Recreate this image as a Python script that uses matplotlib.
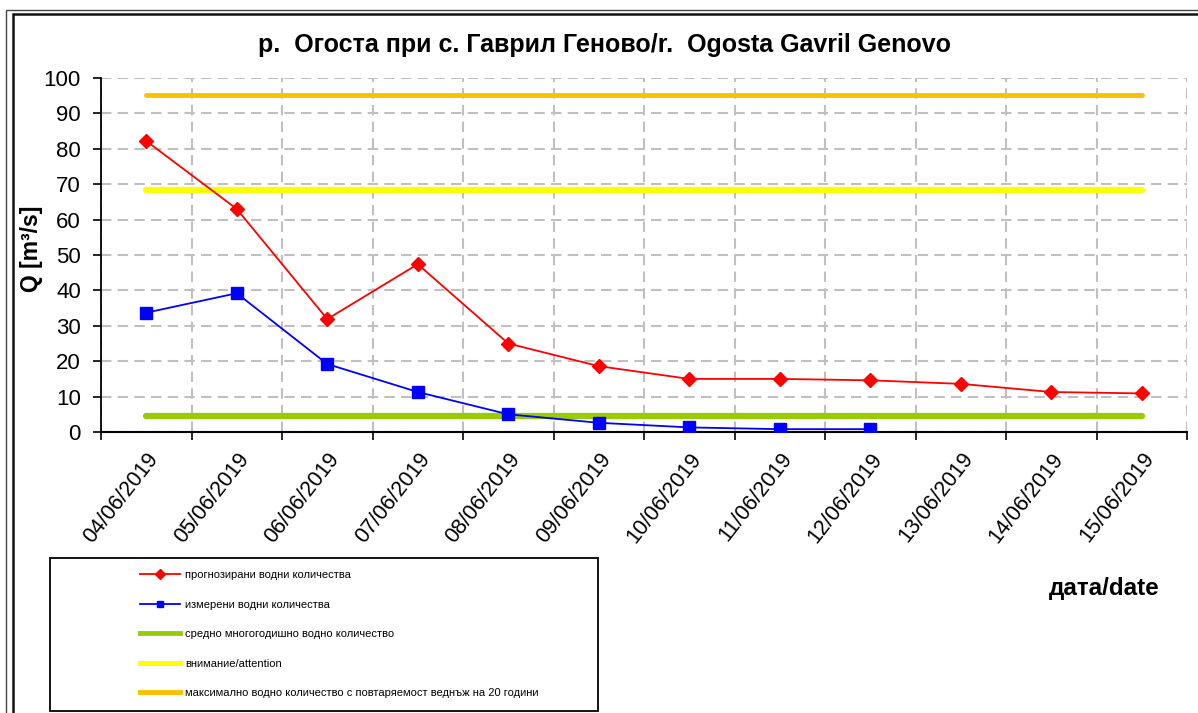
import matplotlib
matplotlib.use("Agg")
import matplotlib.pyplot as plt
from matplotlib.patches import Rectangle
from matplotlib.lines import Line2D

plt.rcParams['font.family'] = ['Liberation Sans', 'DejaVu Sans']

dates = ["04/06/2019", "05/06/2019", "06/06/2019", "07/06/2019", "08/06/2019",
         "09/06/2019", "10/06/2019", "11/06/2019", "12/06/2019", "13/06/2019",
         "14/06/2019", "15/06/2019"]
forecast = [82.2, 63.0, 31.9, 47.4, 25.0, 18.6, 15.0, 15.0, 14.6, 13.6, 11.3, 10.9]
measured = [33.7, 39.2, 19.2, 11.3, 5.0, 2.6, 1.3, 0.8, 0.8]
mean_q = 4.6
attention_q = 68.3
max20_q = 95.2

labels = ["прогнозирани водни количества",
          "измерени водни количества",
          "средно многогодишно водно количество",
          "внимание/attention",
          "максимално водно количество с повтаряемост веднъж на 20 години"]

W, H = 1198, 713
fig = plt.figure(figsize=(W / 100, H / 100), dpi=100)
fig.patch.set_facecolor("white")

def fx(px):
    return px / W

def fy(py):
    return 1 - py / H

AX_L, AX_R, AX_T, AX_B = 101, 1187, 78, 432
ax = fig.add_axes([fx(AX_L), fy(AX_B), fx(AX_R) - fx(AX_L), fy(AX_T) - fy(AX_B)])

x = list(range(len(dates)))
xm = list(range(len(measured)))

h_mean, = ax.plot([x[0], x[-1]], [mean_q, mean_q], color="#99cc00", lw=4.5,
                  solid_capstyle="round", zorder=3)
h_att, = ax.plot([x[0], x[-1]], [attention_q, attention_q], color="#ffff00", lw=4.5,
                 solid_capstyle="round", zorder=3)
h_max, = ax.plot([x[0], x[-1]], [max20_q, max20_q], color="#ffc000", lw=3.5,
                 solid_capstyle="round", zorder=3)
h_fc, = ax.plot(x, forecast, color="#ff0000", lw=1.3, marker="D", ms=7,
                markerfacecolor="#ff0000", markeredgecolor="#ff0000", zorder=4)
h_ms, = ax.plot(xm, measured, color="#0000ff", lw=1.3, marker="s", ms=9,
                markerfacecolor="#0000ff", markeredgecolor="#0000ff", zorder=5)

ax.set_xlim(-0.5, len(dates) - 0.5)
ax.set_ylim(0, 100)
ax.set_yticks(range(0, 101, 10))
ax.tick_params(axis="y", labelsize=16, length=6, width=1.2, direction="out", pad=8.5)

ax.set_xticks(x)
ax.set_xticklabels(dates, rotation=52, ha="right", va="top",
                   rotation_mode="anchor", fontsize=15.5)
ax.tick_params(axis="x", which="major", length=0, pad=12)
ax.set_xticks([i - 0.5 for i in range(len(dates) + 1)], minor=True)
ax.tick_params(axis="x", which="minor", length=6, width=1.2, direction="out")

ax.grid(True, axis="y", which="major", color="#c0c0c0", lw=1.5, ls=(0, (5, 3)))
ax.grid(True, axis="x", which="minor", color="#c0c0c0", lw=1.5, ls=(0, (5, 3)))
ax.set_axisbelow(True)

for s in ["top", "right"]:
    ax.spines[s].set_visible(False)
ax.spines["left"].set_linewidth(1.3)
ax.spines["bottom"].set_linewidth(1.5)

ax.set_ylabel("Q [m³/s]", fontsize=16.5, fontweight="bold")
ax.yaxis.set_label_coords((43 - AX_L) / (AX_R - AX_L), (AX_B - 249) / (AX_B - AX_T))

fig.text(fx(605), fy(45), "р.  Огоста при с. Гаврил Геново/r.  Ogosta Gavril Genovo",
         ha="center", va="center", fontsize=18, fontweight="bold")

fig.text(fx(1104), fy(589), "дата/date", ha="center", va="center",
         fontsize=17.5, fontweight="bold")

# outer double border
fig.patches.append(Rectangle((fx(6), fy(740)), fx(1300), fy(10) - fy(740),
                             transform=fig.transFigure, fill=False, ec="#444444", lw=1.0))
fig.patches.append(Rectangle((fx(12.5), fy(740)), fx(1300), fy(14) - fy(740),
                             transform=fig.transFigure, fill=False, ec="#111111", lw=1.8))

# legend box
fig.patches.append(Rectangle((fx(50), fy(711)), fx(598) - fx(50), fy(558) - fy(711),
                             transform=fig.transFigure, fill=False, ec="black", lw=1.3))

leg_handles = [
    Line2D([], [], color="#ff0000", lw=1.3, marker="D", ms=5),
    Line2D([], [], color="#0000ff", lw=1.3, marker="s", ms=5),
    Line2D([], [], color="#99cc00", lw=3.5),
    Line2D([], [], color="#ffff00", lw=3.5),
    Line2D([], [], color="#ffc000", lw=3.5),
]
fig.legend(leg_handles, labels, loc="upper left",
           bbox_to_anchor=(fx(137), fy(567)), frameon=False, fontsize=8,
           handlelength=3.6, handletextpad=0.45, labelspacing=1.75,
           borderpad=0.3, borderaxespad=0)

fig.savefig("out.png", dpi=100)
